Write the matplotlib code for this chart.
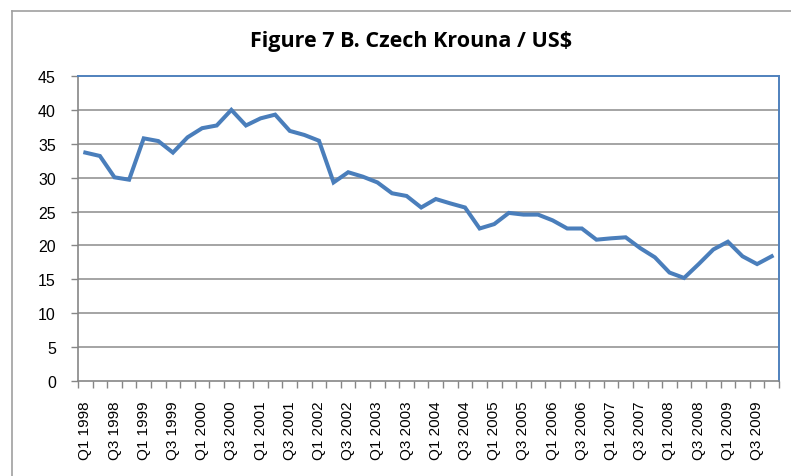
import matplotlib
matplotlib.use('Agg')
import matplotlib.pyplot as plt
from matplotlib.lines import Line2D
import numpy as np

# Quarterly CZK per US$, Q1 1998 .. Q4 2009
quarters = [f'Q{q} {y}' for y in range(1998, 2010) for q in range(1, 5)]
rates = [
    33.7, 33.2, 30.05, 29.7, 35.8, 35.4, 33.7, 35.95,
    37.3, 37.7, 40.0, 37.7, 38.75, 39.3, 36.9, 36.3,
    35.45, 29.3, 30.8, 30.15, 29.3, 27.7, 27.3, 25.6,
    26.85, 26.2, 25.6, 22.5, 23.15, 24.8, 24.55, 24.55,
    23.7, 22.5, 22.5, 20.85, 21.05, 21.2, 19.6, 18.25,
    16.0, 15.2, 17.25, 19.4, 20.55, 18.4, 17.25, 18.4,
]
yticks = list(range(0, 50, 5))

W, H = 791, 477
fig = plt.figure(figsize=(W / 100, H / 100), dpi=100)
ax = fig.add_axes([78 / W, 1 - 382 / H, (779 - 78) / W, (382 - 77) / H])

x = np.arange(len(rates))
ax.plot(x, rates, color='#4A7EBB', lw=2.9, solid_joinstyle='miter', zorder=3)

ax.set_xlim(-0.5, len(rates) - 0.5)
ax.set_ylim(0, 45)

# y axis
ax.set_yticks(yticks)
ax.set_yticklabels([str(v) for v in yticks], fontsize=11.5, family='Liberation Sans')
ax.tick_params(axis='y', direction='out', length=5, width=1, color='#868686', pad=11)
for v in yticks[1:-1]:
    ax.axhline(v, color='#8C8C8C', lw=1.1, zorder=1)

# x axis: tick marks at category boundaries, labels every second quarter
ax.set_xticks(np.arange(-0.5, len(rates), 1.0))
ax.set_xticklabels([])
ax.tick_params(axis='x', which='major', direction='out', length=5, width=1, color='#868686')
ax.set_xticks(x[::2], minor=True)
ax.set_xticklabels(quarters[::2], minor=True, rotation=90, fontsize=11,
                   family='Liberation Sans')
ax.tick_params(axis='x', which='minor', length=0, pad=14)

for s in ['left', 'bottom']:
    ax.spines[s].set_color('#868686')
    ax.spines[s].set_linewidth(1.2)
for s in ['top', 'right']:
    ax.spines[s].set_color('#4F81BD')
    ax.spines[s].set_linewidth(1.4)

fig.text(411 / W, 1 - 42 / H, 'Figure 7 B. Czech Krouna / US$',
         ha='center', va='center', fontsize=15.5, fontweight='bold', family='Open Sans')

# outer chart frame (top and left edges visible)
fig.add_artist(Line2D([12 / W, 1], [1 - 12 / H, 1 - 12 / H], color='#A0A0A0', lw=1.2))
fig.add_artist(Line2D([12 / W, 12 / W], [0, 1 - 12 / H], color='#A0A0A0', lw=1.2))

fig.savefig('out.png', dpi=100)
